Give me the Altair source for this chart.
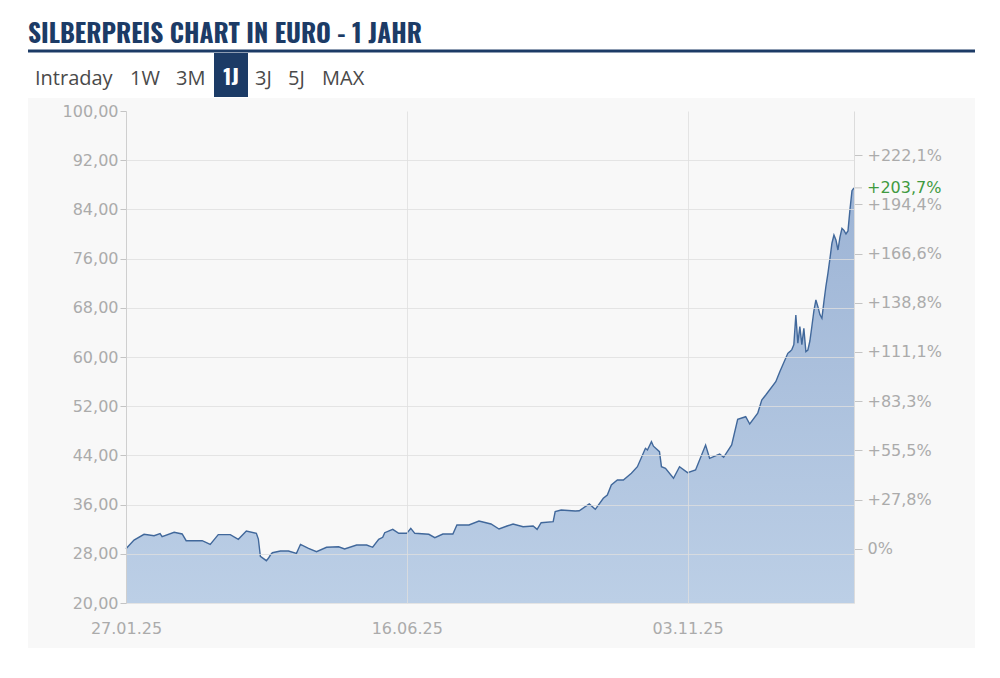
import altair as alt
import pandas as pd

# ---------------- data ----------------
dates = [
    "2025-01-27", "2025-01-31", "2025-02-05", "2025-02-10", "2025-02-13", "2025-02-14",
    "2025-02-20", "2025-02-24", "2025-02-26", "2025-03-06", "2025-03-10", "2025-03-14",
    "2025-03-20", "2025-03-24", "2025-03-28", "2025-04-02", "2025-04-03", "2025-04-04",
    "2025-04-07", "2025-04-08", "2025-04-09", "2025-04-10", "2025-04-14", "2025-04-18",
    "2025-04-22", "2025-04-24", "2025-04-28", "2025-05-02", "2025-05-07", "2025-05-13",
    "2025-05-16", "2025-05-22", "2025-05-27", "2025-05-30", "2025-06-02", "2025-06-04",
    "2025-06-05", "2025-06-09", "2025-06-12", "2025-06-16", "2025-06-18", "2025-06-20",
    "2025-06-27", "2025-06-30", "2025-07-04", "2025-07-09", "2025-07-11", "2025-07-17",
    "2025-07-22", "2025-07-28", "2025-08-01", "2025-08-05", "2025-08-08", "2025-08-13",
    "2025-08-18", "2025-08-20", "2025-08-22", "2025-08-28", "2025-08-29", "2025-09-01",
    "2025-09-08", "2025-09-10", "2025-09-15", "2025-09-18", "2025-09-22", "2025-09-24",
    "2025-09-26", "2025-09-29", "2025-10-02", "2025-10-06", "2025-10-09", "2025-10-13",
    "2025-10-14", "2025-10-16", "2025-10-17", "2025-10-20", "2025-10-21", "2025-10-23",
    "2025-10-27", "2025-10-30", "2025-11-03", "2025-11-07", "2025-11-12", "2025-11-14",
    "2025-11-19", "2025-11-21", "2025-11-25", "2025-11-28", "2025-12-02", "2025-12-04",
    "2025-12-08", "2025-12-10", "2025-12-12", "2025-12-17", "2025-12-19", "2025-12-23",
    "2025-12-24", "2025-12-25", "2025-12-26", "2025-12-27", "2025-12-28", "2025-12-29",
    "2025-12-30", "2025-12-31", "2026-01-01", "2026-01-02", "2026-01-03", "2026-01-04",
    "2026-01-05", "2026-01-06", "2026-01-07", "2026-01-08", "2026-01-09", "2026-01-10",
    "2026-01-11", "2026-01-12", "2026-01-13", "2026-01-14", "2026-01-15", "2026-01-16",
    "2026-01-17", "2026-01-18", "2026-01-19", "2026-01-20", "2026-01-21", "2026-01-22",
    "2026-01-23", "2026-01-24", "2026-01-25",
]
prices = [
    28.81, 30.24, 31.17, 30.94, 31.27, 30.78,
    31.49, 31.22, 30.13, 30.13, 29.54, 31.11,
    31.11, 30.36, 31.71, 31.33, 30.40, 27.60,
    26.88, 27.27, 27.80, 28.18, 28.46, 28.46,
    28.08, 29.54, 28.89, 28.34, 29.06, 29.15,
    28.78, 29.43, 29.43, 29.06, 30.36, 30.68,
    31.43, 31.98, 31.33, 31.33, 32.15, 31.33,
    31.17, 30.62, 31.22, 31.22, 32.68, 32.68,
    33.33, 32.85, 32.03, 32.52, 32.85, 32.41,
    32.52, 31.98, 33.06, 33.22, 34.85, 35.12,
    34.96, 35.00, 36.10, 35.23, 37.02, 37.56,
    39.19, 40.00, 40.00, 41.09, 42.16, 45.15,
    44.88, 46.23, 45.50, 44.60, 42.16, 41.90,
    40.28, 42.16, 41.19, 41.63, 45.69, 43.53,
    44.23, 43.69, 45.69, 49.87, 50.29, 49.11,
    50.85, 53.01, 53.82, 55.98, 57.61, 60.60,
    60.87, 61.20, 62.00, 66.83, 62.23, 64.93,
    62.00, 64.67, 60.87, 61.14, 62.60, 65.00,
    67.50, 69.27, 68.18, 66.90, 66.29, 69.00,
    71.50, 73.60, 76.00, 78.50, 79.84, 79.02,
    77.40, 79.50, 80.93, 80.60, 80.00, 80.50,
    84.00, 87.04, 87.50,
]
base_price = 28.81
left_ticks = [20, 28, 36, 44, 52, 60, 68, 76, 84, 92, 100]
right_pcts = [0, 27.8, 55.5, 83.3, 111.1, 138.8, 166.6, 194.4, 222.1]
x_ticks = ["2025-01-27", "2025-06-16", "2025-11-03"]
title_text = "SILBERPREIS CHART IN EURO - 1 JAHR"
tabs = ["Intraday", "1W", "3M", "3J", "5J", "MAX"]
active_tab = "1J"

# ---------------- layout / style ----------------
W, H = 728, 492
FONT = "DejaVu Sans"
TITLE_FONT = "Oswald, 'Roboto Condensed', 'Liberation Sans Narrow', 'DejaVu Sans Condensed', sans-serif"
TAB_FONT = "Open Sans"
NAVY = "#1c3b66"
LABEL_COLOR = "#ababab"
tab_x = [-91, 4, 50, 129, 162, 196]


def dt(s):
    y, m, d = (int(p) for p in s.split("-"))
    return alt.DateTime(year=y, month=m, date=d, utc=True)


df = pd.DataFrame({"date": dates, "price": prices})
last = pd.DataFrame({
    "date": [dates[-1]],
    "price": [prices[-1]],
    "label": ["+" + f"{(prices[-1] / base_price - 1) * 100:.1f}".replace(".", ",") + "%"],
})
one = pd.DataFrame({"k": [0]})

x_scale = alt.Scale(type="utc", domain=[dt(dates[0]), dt(dates[-1])])
y_scale = alt.Scale(domain=[20, 100], zero=False, nice=False)

x_axis = alt.Axis(
    values=[dt(s) for s in x_ticks], format="%d.%m.%y", title=None,
    labelFont=FONT, labelFontSize=16, labelColor=LABEL_COLOR, labelFlush=False,
    labelPadding=17, domain=False, ticks=False, grid=True,
    gridColor="#dedede", gridOpacity=0.8, zindex=1,
)
left_axis = alt.Axis(
    orient="left", values=left_ticks, title=None,
    labelExpr="replace(format(datum.value, '.2f'), '.', ',')",
    labelFont=FONT, labelFontSize=16, labelColor=LABEL_COLOR, labelPadding=2,
    tickColor="#c4c4c4", tickSize=6, domainColor="#cfcfcf",
    grid=True, gridColor="#dedede",
    gridOpacity={"condition": {"test": "datum.value >= 100", "value": 0}, "value": 0.8},
    zindex=1,
)
right_axis = alt.Axis(
    orient="right", values=[base_price * (1 + p / 100) for p in right_pcts], title=None,
    labelExpr=(
        f"datum.value < {base_price + 0.05} ? '0%' : '+' + "
        f"replace(format((datum.value / {base_price} - 1) * 100, '.1f'), '.', ',') + '%'"
    ),
    labelFont=FONT, labelFontSize=16, labelColor=LABEL_COLOR, labelPadding=5,
    tickColor="#c4c4c4", tickSize=8, domainColor="#dcdcdc", grid=False, zindex=1,
)

grad = alt.Gradient(
    gradient="linear",
    stops=[alt.GradientStop(color="#9db4d5", offset=0),
           alt.GradientStop(color="#bccfe6", offset=1)],
    x1=0, x2=0, y1=0, y2=1,
)

X = alt.X("date:T", scale=x_scale, axis=x_axis)

area = alt.Chart(df).mark_area(color=grad).encode(
    x=X,
    y=alt.Y("price:Q", scale=y_scale, axis=left_axis),
    y2=alt.datum(20),
)
line = alt.Chart(df).mark_line(color="#41689b", strokeWidth=1.4).encode(
    x=X,
    y=alt.Y("price:Q", scale=y_scale, axis=left_axis),
)
main = alt.layer(area, line)

right_marks = alt.Chart(df).mark_line(opacity=0).encode(
    x=X,
    y=alt.Y("price:Q", scale=y_scale, axis=right_axis),
)
green_tick = alt.Chart(last).mark_rule(color="#c4c4c4").encode(
    x=alt.value(W), x2=alt.value(W + 8),
    y=alt.Y("price:Q", scale=y_scale, axis=right_axis),
)
green_text = alt.Chart(last).mark_text(
    align="left", baseline="middle", font=FONT, fontSize=16, color="#3f9a3f"
).encode(
    x=alt.value(W + 13),
    y=alt.Y("price:Q", scale=y_scale, axis=right_axis),
    text="label:N",
)
right = alt.layer(right_marks, green_tick, green_text)

panel = alt.Chart(one).mark_rect(color="#f8f8f8").encode(
    x=alt.value(-98), x2=alt.value(849), y=alt.value(-13), y2=alt.value(537)
)
title = alt.Chart(one).mark_text(
    align="left", baseline="alphabetic", font=TITLE_FONT, fontSize=25.4,
    fontWeight="bold", color=NAVY, text=title_text,
).encode(x=alt.value(-98), y=alt.value(-68))
underline = alt.Chart(one).mark_rule(color=NAVY, strokeWidth=3).encode(
    x=alt.value(-98), x2=alt.value(849), y=alt.value(-60)
)
tab_df = pd.DataFrame({"tab": tabs, "px": tab_x})
tab_text = alt.Chart(tab_df).mark_text(
    align="left", baseline="alphabetic", font=TAB_FONT, fontSize=20, color="#4a4a4a"
).encode(x=alt.X("px:Q", scale=None), y=alt.value(-26), text="tab:N")
active_box = alt.Chart(one).mark_rect(color=NAVY).encode(
    x=alt.value(88), x2=alt.value(122), y=alt.value(-58), y2=alt.value(-14)
)
active_text = alt.Chart(one).mark_text(
    align="center", baseline="alphabetic", font=TITLE_FONT, fontSize=21,
    fontWeight="bold", color="white", text=active_tab,
).encode(x=alt.value(105), y=alt.value(-26))

chart = alt.layer(
    panel, main, right, title, underline, tab_text, active_box, active_text
).resolve_scale(y="independent").properties(
    width=W, height=H,
    autosize=alt.AutoSizeParams(type="none"),
    padding={"left": 118, "top": 103, "right": 136, "bottom": 60},
    background="white",
).configure_view(stroke=None)

chart.save("out.html", embed_options={"renderer": "svg", "actions": False})
